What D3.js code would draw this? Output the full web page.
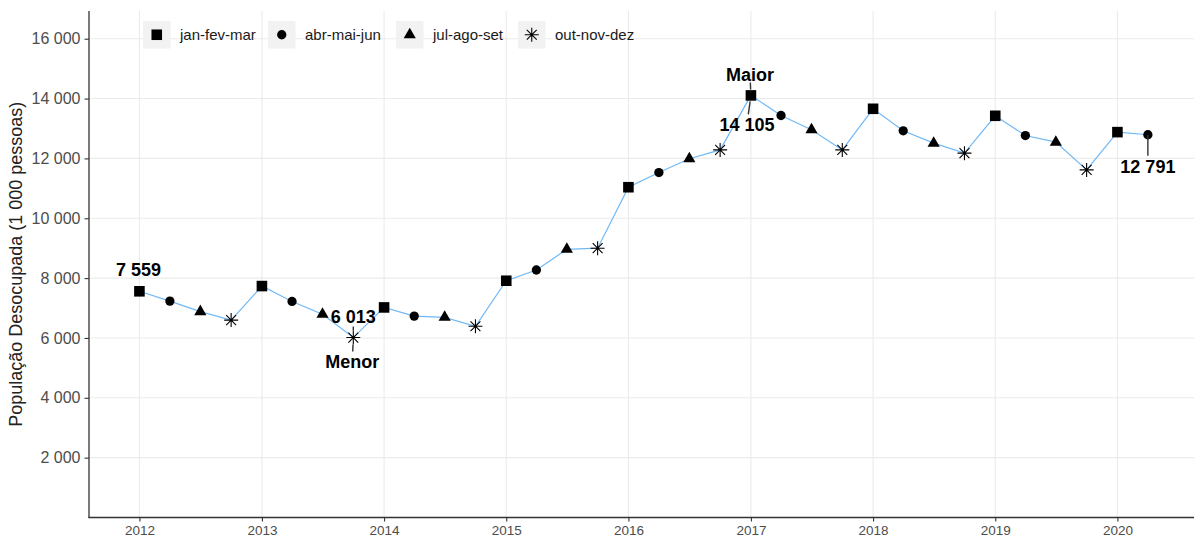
<!DOCTYPE html>
<html>
<head>
<meta charset="utf-8">
<script src="https://cdn.jsdelivr.net/npm/d3@7"></script>
<style>
  html, body { margin: 0; padding: 0; background: #fff; }
  svg { display: block; font-family: "Liberation Sans", Arial, sans-serif; }
</style>
</head>
<body>
<svg id="chart" width="1194" height="540"></svg>
<script>
// ---------------- data ----------------
const periods = [
  "2012-01","2012-04","2012-07","2012-10",
  "2013-01","2013-04","2013-07","2013-10",
  "2014-01","2014-04","2014-07","2014-10",
  "2015-01","2015-04","2015-07","2015-10",
  "2016-01","2016-04","2016-07","2016-10",
  "2017-01","2017-04","2017-07","2017-10",
  "2018-01","2018-04","2018-07","2018-10",
  "2019-01","2019-04","2019-07","2019-10",
  "2020-01","2020-04"
];
const values = [
  7559, 7232, 6880, 6596,
  7734, 7220, 6790, 6013,
  7020, 6730, 6690, 6390,
  7912, 8270, 8962, 9000,
  11037, 11527, 11990, 12285,
  14105, 13434, 12955, 12285,
  13658, 12922, 12510, 12175,
  13424, 12764, 12543, 11616,
  12878, 12791
];
const quarterNames = ["jan-fev-mar", "abr-mai-jun", "jul-ago-set", "out-nov-dez"];
const yTicks = [2000, 4000, 6000, 8000, 10000, 12000, 14000, 16000];
const xTickYears = [2012, 2013, 2014, 2015, 2016, 2017, 2018, 2019, 2020];
const yMax = 16926;
const yTitle = "População Desocupada (1 000 pessoas)";
// annotations: index into the series, text
const annotations = [
  { i: 0,  text: "7 559" },
  { i: 7,  text: "6 013" },
  { i: 7,  text: "Menor" },
  { i: 20, text: "Maior" },
  { i: 20, text: "14 105" },
  { i: 33, text: "12 791" }
];

// ---------------- layout ----------------
const parse = d3.timeParse("%Y-%m");
const data = periods.map((p, k) => ({ date: parse(p), value: values[k], q: k % 4 }));

const panel = { left: 89, top: 11, bottom: 517.5 };
const d0 = data[0].date, d1 = data[data.length - 1].date;
const span = d1 - d0;
const x = d3.scaleTime()
  .domain([new Date(+d0 - span * 0.05), new Date(+d1 + span * 0.05)])
  .range([panel.left, 1198.3]);
const y = d3.scaleLinear().domain([0, yMax]).range([panel.bottom, panel.top]);

const svg = d3.select("#chart");

// grid
const grid = svg.append("g");
grid.selectAll("line.h").data(yTicks).join("line")
  .attr("x1", panel.left).attr("x2", 1194)
  .attr("y1", d => y(d)).attr("y2", d => y(d))
  .attr("stroke", "#EBEBEB").attr("stroke-width", 1.1);
grid.selectAll("line.v").data(xTickYears).join("line")
  .attr("x1", d => x(new Date(d, 0, 1))).attr("x2", d => x(new Date(d, 0, 1)))
  .attr("y1", panel.top).attr("y2", panel.bottom)
  .attr("stroke", "#EBEBEB").attr("stroke-width", 1.1);

// axes
const yAxis = d3.axisLeft(y).tickValues(yTicks).tickSize(4.5).tickPadding(4)
  .tickFormat(d => d3.format(",")(d).replace(/,/g, " "));
const gy = svg.append("g").attr("transform", `translate(${panel.left},0)`).call(yAxis);
gy.select(".domain").remove();
gy.selectAll(".tick line").attr("stroke", "#333").attr("stroke-width", 1.1);
gy.selectAll(".tick text").attr("fill", "#4D4D4D").style("font-size", "16px")
  .style("font-family", "Liberation Sans, Arial, sans-serif");

const xAxis = d3.axisBottom(x).tickValues(xTickYears.map(yy => new Date(yy, 0, 1)))
  .tickSize(4).tickPadding(4).tickFormat(d3.timeFormat("%Y"));
const gx = svg.append("g").attr("transform", `translate(0,${panel.bottom})`).call(xAxis);
gx.select(".domain").remove();
gx.selectAll(".tick line").attr("stroke", "#333").attr("stroke-width", 1.1);
gx.selectAll(".tick text").attr("fill", "#4D4D4D").style("font-size", "13.5px")
  .style("font-family", "Liberation Sans, Arial, sans-serif");

// axis lines
svg.append("line").attr("x1", panel.left).attr("x2", panel.left)
  .attr("y1", panel.top).attr("y2", panel.bottom + 0.6)
  .attr("stroke", "#333").attr("stroke-width", 1.3);
svg.append("line").attr("x1", panel.left - 0.6).attr("x2", 1194)
  .attr("y1", panel.bottom).attr("y2", panel.bottom)
  .attr("stroke", "#333").attr("stroke-width", 1.3);

// y title
svg.append("text")
  .attr("transform", `translate(22,${(panel.top + panel.bottom) / 2}) rotate(-90)`)
  .attr("text-anchor", "middle")
  .attr("fill", "#222")
  .style("font-size", "18px")
  .text(yTitle);

// line
svg.append("path").datum(data)
  .attr("fill", "none").attr("stroke", "#70B8F5").attr("stroke-width", 1.2)
  .attr("d", d3.line().x(d => x(d.date)).y(d => y(d.value)));

// symbols
function asteriskPath(r) {
  const a = r / Math.SQRT2;
  return `M${-r},0L${r},0M0,${-r}L0,${r}M${-a},${-a}L${a},${a}M${-a},${a}L${a},${-a}`;
}
const symbolFor = [
  d3.symbol().type(d3.symbolSquare).size(112)(),
  d3.symbol().type(d3.symbolCircle).size(68)(),
  d3.symbol().type(d3.symbolTriangle).size(64)(),
  asteriskPath(7)
];
function drawSymbol(g, q) {
  const p = g.append("path").attr("d", symbolFor[q]);
  if (q === 3) p.attr("fill", "none").attr("stroke", "#000").attr("stroke-width", 1.1);
  else p.attr("fill", "#000");
}
svg.append("g").selectAll("g").data(data).join("g")
  .attr("transform", d => `translate(${x(d.date)},${y(d.value)})`)
  .each(function (d) { drawSymbol(d3.select(this), d.q); });

// annotations
const annOffsets = [
  { dx: -1, dy: -22, seg: null },
  { dx: 0,  dy: -21, seg: [-11, -7] },
  { dx: -1, dy: 24,  seg: [7, 14] },
  { dx: -1, dy: -21, seg: [-6, -13] },
  { dx: -4, dy: 29,  seg: [6, 19] },
  { dx: 0,  dy: 32,  seg: [0, 21] }
];
const annG = svg.append("g");
annotations.forEach((a, k) => {
  const d = data[a.i];
  const px = x(d.date), py = y(d.value);
  const o = annOffsets[k];
  if (o.seg) {
    const t0 = o.seg[0] / o.dy, t1 = o.seg[1] / o.dy;
    annG.append("line")
      .attr("x1", px + o.dx * Math.abs(t0)).attr("y1", py + o.seg[0])
      .attr("x2", px + o.dx * Math.abs(t1)).attr("y2", py + o.seg[1])
      .attr("stroke", "#333").attr("stroke-width", 1.4);
  }
  annG.append("text")
    .attr("x", px + o.dx).attr("y", py + o.dy).attr("dy", "0.36em")
    .attr("text-anchor", "middle")
    .attr("font-weight", "bold")
    .attr("fill", "#000")
    .style("font-size", "18px")
    .text(a.text);
});

// legend
const legendKeys = [143, 268, 396, 518];
const legend = svg.append("g");
quarterNames.forEach((name, q) => {
  const g = legend.append("g").attr("transform", `translate(${legendKeys[q]},21)`);
  g.append("rect").attr("width", 27.5).attr("height", 27.5).attr("fill", "#F2F2F2");
  const s = g.append("g").attr("transform", "translate(13.75,13.75)");
  drawSymbol(s, q);
  g.append("text").attr("x", 37).attr("y", 14).attr("dy", "0.35em")
    .attr("fill", "#1A1A1A").style("font-size", "15px").text(name);
});
</script>
</body>
</html>
